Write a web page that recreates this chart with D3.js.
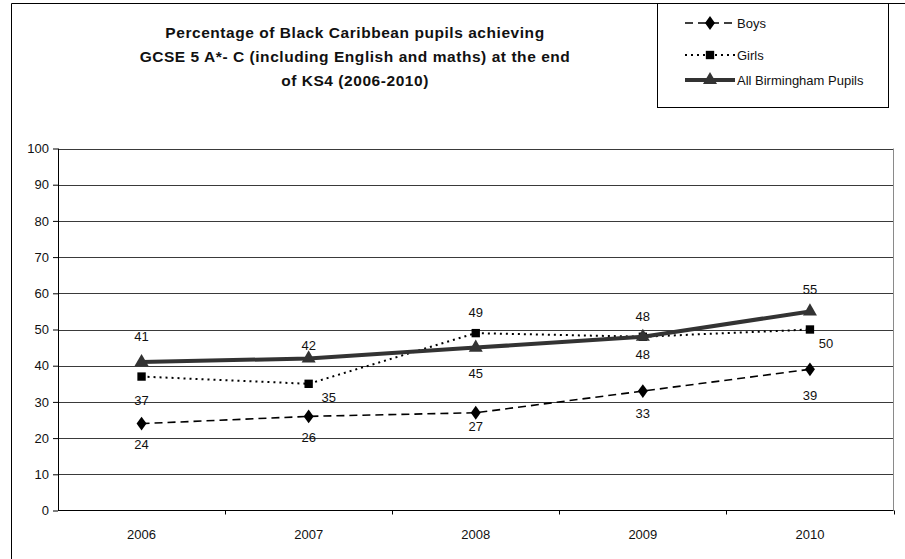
<!DOCTYPE html>
<html>
<head>
<meta charset="utf-8">
<script src="https://cdn.jsdelivr.net/npm/d3@7"></script>
<style>
  html, body { margin: 0; padding: 0; background: #fff; }
  svg { display: block; font-family: "Liberation Sans", Arial, sans-serif; }
</style>
</head>
<body>
<svg id="chart" width="905" height="559"></svg>
<script>
// Years on the category axis
const years = ["2006", "2007", "2008", "2009", "2010"];
// Percentage achieving 5 A*-C incl. English and maths
const boys = [24, 26, 27, 33, 39];
const girls = [37, 35, 49, 48, 50];
const allPupils = [41, 42, 45, 48, 55];
const yTicks = [0, 10, 20, 30, 40, 50, 60, 70, 80, 90, 100];
const titleLines = [
  "Percentage of Black Caribbean pupils achieving",
  "GCSE 5 A*- C (including English and maths) at the end",
  "of KS4 (2006-2010)"
];

// Value-label placement relative to each point (pixels)
const boysLabelPos = [[0, 21], [0, 21], [0, 14], [0, 22], [0, 26]];
const girlsLabelPos = [[0, 24], [20, 14], [0, -21], [0, -20], [16, 14]];
const allLabelPos = [[0, -26], [0, -13], [0, 26], [0, 18], [0, -22]];

const svg = d3.select("#chart");

const plot = { left: 58, right: 893.5, top: 148.5, bottom: 510.5 };

const x = d3.scaleBand().domain(years).range([plot.left, plot.right]).padding(0);
const y = d3.scaleLinear().domain([0, 100]).range([plot.bottom, plot.top]);
const cx = d => x(d) + x.bandwidth() / 2;

// Outer chart frame
svg.append("path")
  .attr("d", `M11.5,${559 + 5} V3.5 H${905 + 5}`)
  .attr("fill", "none").attr("stroke", "#000").attr("stroke-width", 1);

// Title
const title = svg.append("text")
  .attr("text-anchor", "middle")
  .attr("font-weight", "bold")
  .attr("font-size", "15.5px")
  .attr("letter-spacing", "0.55px")
  .attr("fill", "#111");
titleLines.forEach((t, i) => {
  title.append("tspan").attr("x", 355).attr("y", 37.5 + i * 24).text(t);
});

// Horizontal gridlines
svg.append("g")
  .selectAll("line")
  .data(yTicks.filter(v => v > 0))
  .join("line")
  .attr("x1", plot.left).attr("x2", plot.right)
  .attr("y1", d => Math.round(y(d)) + 0.5).attr("y2", d => Math.round(y(d)) + 0.5)
  .attr("stroke", "#3a3a3a").attr("stroke-width", 1);

// Right edge of plot area
svg.append("line")
  .attr("x1", plot.right).attr("x2", plot.right)
  .attr("y1", plot.top).attr("y2", plot.bottom)
  .attr("stroke", "#8a8a8a").attr("stroke-width", 1);

// Y axis
const yAxis = svg.append("g")
  .attr("transform", `translate(${plot.left},0)`)
  .call(d3.axisLeft(y).tickValues(yTicks).tickSize(5).tickPadding(4).tickFormat(d3.format("d")));
yAxis.selectAll("text").attr("font-size", "13px").attr("fill", "#111")
  .attr("font-family", "'Liberation Sans', Arial, sans-serif");
yAxis.selectAll("line, path").attr("stroke", "#000");
yAxis.select(".domain").attr("d", `M0.5,${plot.top}V${plot.bottom}`);

// X axis with ticks at category boundaries
const xAxis = svg.append("g")
  .attr("transform", `translate(0,${plot.bottom})`);
xAxis.append("line")
  .attr("x1", plot.left).attr("x2", plot.right).attr("y1", 0).attr("y2", 0)
  .attr("stroke", "#000");
const boundaries = years.map(d => x(d)).concat([x(years[years.length - 1]) + x.bandwidth()]);
xAxis.selectAll("line.tick")
  .data(boundaries.slice(1))
  .join("line").attr("class", "tick")
  .attr("x1", d => Math.round(d) + 0.5).attr("x2", d => Math.round(d) + 0.5)
  .attr("y1", 0).attr("y2", 4)
  .attr("stroke", "#000");
xAxis.selectAll("text")
  .data(years)
  .join("text")
  .attr("x", d => cx(d)).attr("y", 28)
  .attr("text-anchor", "middle")
  .attr("font-size", "13px").attr("fill", "#111")
  .text(d => d);

// Series definitions
const series = [
  { name: "Boys", values: boys, labels: boysLabelPos, stroke: "#000", width: 1.6, dash: "8,5", marker: d3.symbolDiamond, size: 55, fill: "#000" },
  { name: "Girls", values: girls, labels: girlsLabelPos, stroke: "#000", width: 2, dash: "2,4", marker: d3.symbolSquare, size: 70, fill: "#000" },
  { name: "All Birmingham Pupils", values: allPupils, labels: allLabelPos, stroke: "#333", width: 4, dash: null, marker: d3.symbolTriangle, size: 85, fill: "#333" }
];

const line = d3.line().x((d, i) => cx(years[i])).y(d => y(d));

series.forEach(s => {
  const g = svg.append("g");
  g.append("path")
    .attr("d", line(s.values))
    .attr("fill", "none")
    .attr("stroke", s.stroke)
    .attr("stroke-width", s.width)
    .attr("stroke-dasharray", s.dash);
  g.selectAll("path.marker")
    .data(s.values)
    .join("path").attr("class", "marker")
    .attr("transform", (d, i) => `translate(${cx(years[i])},${y(d)})` + (s.marker === d3.symbolDiamond ? " scale(1.25,1)" : ""))
    .attr("d", d3.symbol().type(s.marker).size(s.size))
    .attr("fill", s.fill);
});

// Value labels
series.forEach(s => {
  svg.append("g").selectAll("text")
    .data(s.values)
    .join("text")
    .attr("x", (d, i) => cx(years[i]) + s.labels[i][0])
    .attr("y", (d, i) => y(d) + s.labels[i][1])
    .attr("dy", "0.35em")
    .attr("text-anchor", "middle")
    .attr("font-size", "13px").attr("fill", "#111")
    .text(d => d);
});

// Legend
const legend = svg.append("g");
legend.append("rect")
  .attr("x", 657.5).attr("y", 3.5).attr("width", 231).attr("height", 104)
  .attr("fill", "#fff").attr("stroke", "#000");
const legendY = [23, 55, 80];
series.forEach((s, i) => {
  const ly = legendY[i];
  legend.append("line")
    .attr("x1", 685).attr("x2", 735).attr("y1", ly).attr("y2", ly)
    .attr("stroke", s.stroke).attr("stroke-width", s.width)
    .attr("stroke-dasharray", s.dash);
  legend.append("path")
    .attr("transform", `translate(710,${ly})` + (s.marker === d3.symbolDiamond ? " scale(1.25,1)" : ""))
    .attr("d", d3.symbol().type(s.marker).size(s.size))
    .attr("fill", s.fill);
  legend.append("text")
    .attr("x", 737).attr("y", ly).attr("dy", "0.35em")
    .attr("font-size", "13px").attr("fill", "#111")
    .text(s.name);
});
</script>
</body>
</html>
